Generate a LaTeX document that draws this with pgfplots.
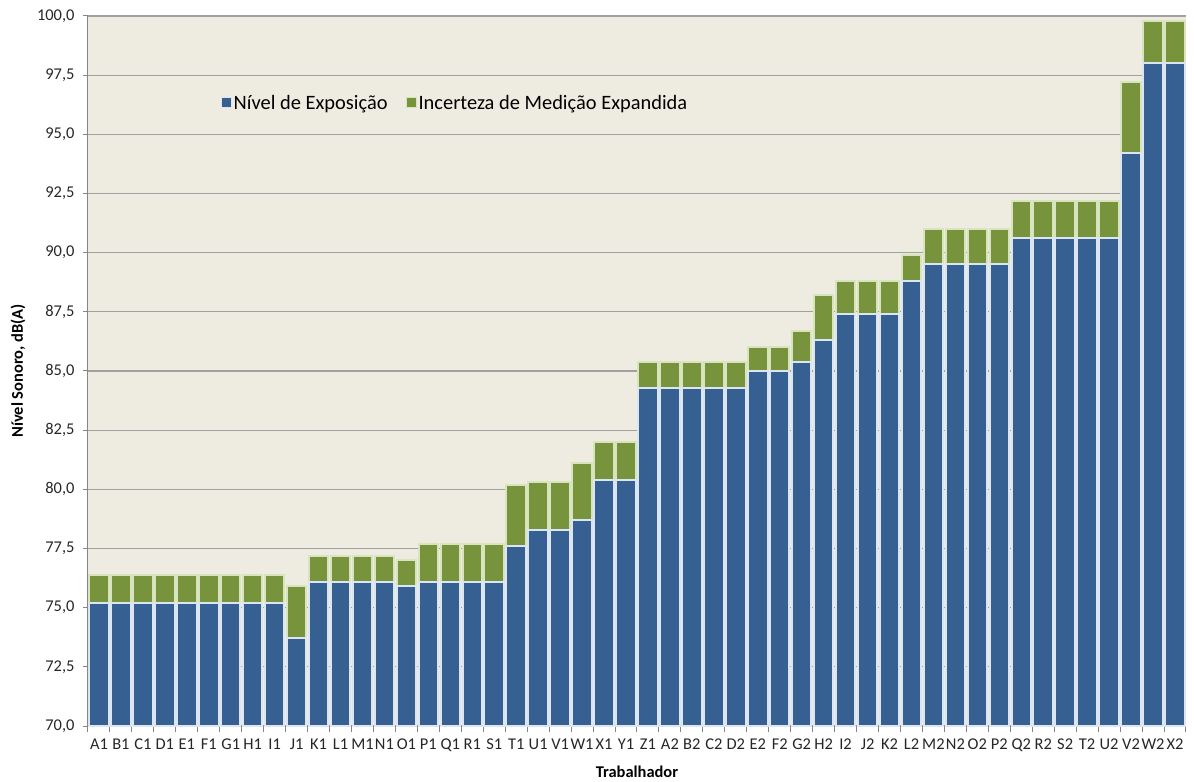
\documentclass[border=0pt]{standalone}
\usepackage{fontspec}
\setmainfont{Carlito}
\usepackage{pgfplots}
\pgfplotsset{compat=1.18}
\usepackage{pgfplotstable}
\definecolor{barblue}{HTML}{366092}
\definecolor{bargreen}{HTML}{77933C}
\definecolor{edgeblue}{HTML}{DCE6F2}
\definecolor{edgegreen}{HTML}{D7E4BD}
\definecolor{bgc}{HTML}{EEECE1}
\definecolor{gridc}{HTML}{A0A0A0}
\definecolor{axc}{HTML}{868686}
\definecolor{tickc}{HTML}{262626}
\pgfplotstableread{
x name blue unc
0 A1 75.2 1.2
1 B1 75.2 1.2
2 C1 75.2 1.2
3 D1 75.2 1.2
4 E1 75.2 1.2
5 F1 75.2 1.2
6 G1 75.2 1.2
7 H1 75.2 1.2
8 I1 75.2 1.2
9 J1 73.7 2.2
10 K1 76.1 1.1
11 L1 76.1 1.1
12 M1 76.1 1.1
13 N1 76.1 1.1
14 O1 75.9 1.1
15 P1 76.1 1.6
16 Q1 76.1 1.6
17 R1 76.1 1.6
18 S1 76.1 1.6
19 T1 77.6 2.6
20 U1 78.3 2.0
21 V1 78.3 2.0
22 W1 78.7 2.4
23 X1 80.4 1.6
24 Y1 80.4 1.6
25 Z1 84.3 1.1
26 A2 84.3 1.1
27 B2 84.3 1.1
28 C2 84.3 1.1
29 D2 84.3 1.1
30 E2 85.0 1.0
31 F2 85.0 1.0
32 G2 85.4 1.3
33 H2 86.3 1.9
34 I2 87.4 1.4
35 J2 87.4 1.4
36 K2 87.4 1.4
37 L2 88.8 1.1
38 M2 89.5 1.5
39 N2 89.5 1.5
40 O2 89.5 1.5
41 P2 89.5 1.5
42 Q2 90.6 1.6
43 R2 90.6 1.6
44 S2 90.6 1.6
45 T2 90.6 1.6
46 U2 90.6 1.6
47 V2 94.2 3.0
48 W2 98.0 1.8
49 X2 98.0 1.8
}\datatable
\begin{document}
\begin{tikzpicture}
\path (-88bp,-54bp) rectangle (1106bp,726bp);
\begin{axis}[
  scale only axis, width=1098bp, height=710bp,
  at={(0,0)}, anchor=south west,
  ybar stacked, bar width=19.5bp,
  xmin=-0.5, xmax=49.5, ymin=70, ymax=100,
  axis background/.style={fill=bgc},
  axis x line*=bottom, axis y line*=left,
  axis line style={axc, line width=1bp, -},
  ytick={70,72.5,...,100},
  xtick={0,...,49},
  xticklabels from table={\datatable}{name},
  minor xtick={-0.5,0.5,...,49.5},
  major x tick style={draw=none},
  minor x tick style={axc, line width=1bp},
  y tick style={axc, line width=1bp},
  tick align=outside,
  major tick length=5bp, minor tick length=6bp,
  ymajorgrids,
  major grid style={gridc, line width=1.1bp},
  tick label style={font=\fontsize{16.5}{18}\selectfont, text=tickc},
  xticklabel style={yshift=-4bp},
  yticklabel style={xshift=-5bp, /pgf/number format/.cd, fixed, fixed zerofill, precision=1, use comma, assume math mode=true},
  every axis y label/.style={at={(axis description cs:0,0.5)}, xshift=-70bp, rotate=90, anchor=center, font=\fontsize{16.5}{18}\selectfont\bfseries},
  every axis x label/.style={at={(axis description cs:0.5,0)}, yshift=-46bp, anchor=center, font=\fontsize{16.5}{18}\selectfont\bfseries},
  ylabel={Nível Sonoro, dB(A)},
  xlabel={Trabalhador},
  legend style={at={(0.118,0.8775)}, anchor=west, draw=none, fill=none,
    font=\fontsize{20.5}{23}\selectfont, legend columns=2,
    /tikz/every even column/.append style={column sep=16bp}},
  clip=true,
]
\addplot[fill=barblue, draw=edgeblue, line width=2bp,
  legend image code/.code={\draw[fill=barblue, draw=edgeblue, line width=1bp] (0bp,-5bp) rectangle (10bp,5bp);}]
  table[x=x, y=blue] {\datatable};
\addlegendentry{Nível de Exposição}
\addplot[fill=bargreen, draw=edgegreen, line width=2bp,
  legend image code/.code={\draw[fill=bargreen, draw=edgegreen, line width=1bp] (0bp,-5bp) rectangle (10bp,5bp);}]
  table[x=x, y=unc] {\datatable};
\addlegendentry{Incerteza de Medição Expandida}
\end{axis}
\end{tikzpicture}
\end{document}
